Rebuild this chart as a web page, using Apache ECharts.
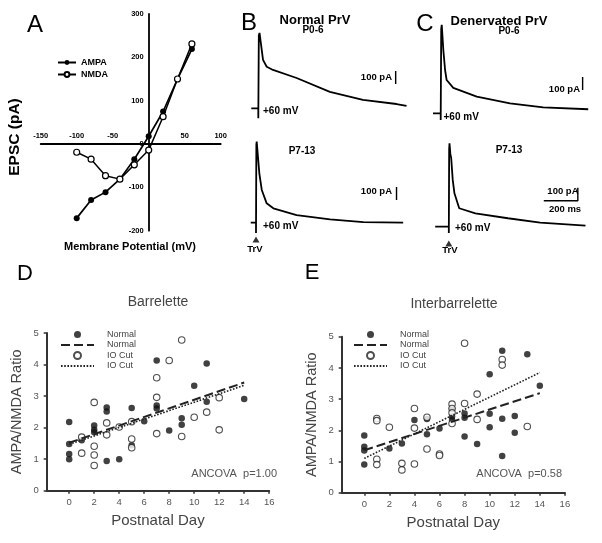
<!DOCTYPE html>
<html><head><meta charset="utf-8">
<script src="https://cdn.jsdelivr.net/npm/echarts@6/dist/echarts.min.js"></script>
<style>html,body{margin:0;padding:0;background:#fff}#c{width:602px;height:543px}</style>
</head><body><div id="c"></div>
<script>
// ---------- Panel A: I-V relation ----------
const ivVoltage   = [-100, -80, -60, -40, -20, 0, 20, 40, 60];
const ampaCurrent = [-171, -129, -111, -81, -35, 18, 75, 150, 219];
const nmdaCurrent = [-19, -35, -73, -81, -48, -14, 63, 150, 231];

// ---------- Panels B, C: EPSC traces [time ms, current pA] ----------
const traceNormalP06 = [[-40,0],[0,0],[0,-77],[3,560],[7,580],[27,372],[48,320],[84,295],[219,233],[409,126],[598,64],[790,33],[847,18]];
const traceNormalP713 = [[-30,0],[0,0],[0,-80],[2,600],[4,624],[19,380],[33,252],[61,149],[99,111],[232,59],[423,26],[613,5],[841,0]];
const traceDenervP06 = [[-44,0],[0,0],[0,-52],[3,650],[6,680],[15,487],[25,333],[34,256],[72,195],[206,128],[396,77],[586,46],[843,31]];
const traceDenervP713 = [[-80,0],[0,0],[0,-49],[2,600],[4,642],[9,560],[14,527],[23,360],[33,257],[61,142],[156,103],[347,65],[537,31],[803,8]];
const barNormalP06 = [[785,187],[785,287]];
const barNormalP713 = [[803,175],[803,275]];
const barDenervP06 = [[811,179],[811,279]];
const barDenervP713 = [[558,200],[758,200],[758,300]];
const stimMark = [[0,-130]];

// ---------- Panel D: Barrelette ----------
const dayTicks = [0, 2, 4, 6, 8, 10, 12, 14, 16];
const barNormalDay   = [0,0,0,0,1,2,2,2,3,3,3,4,5,5,6,7,7,7,8,9,9,10,11,11,14];
const barNormalRatio = [2.18,1.48,1.16,1.0,1.60,2.07,1.93,1.85,2.64,2.51,0.94,1.0,2.62,1.44,2.2,4.13,2.70,2.61,1.91,2.3,2.09,3.33,4.03,2.82,2.91];
const barCutDay   = [1,1,2,2,2,2,3,3,4,5,5,5,7,7,7,8,9,9,10,11,12,12];
const barCutRatio = [1.70,1.19,2.80,1.41,1.13,0.80,2.15,1.77,2.02,2.19,1.64,1.36,3.58,2.96,1.81,4.13,4.78,1.72,2.33,2.49,2.95,1.93];
const fitDays = [0, 14];
const barNormalFit = [1.52, 3.43];
const barCutFit = [1.47, 3.34];

// ---------- Panel E: Interbarrelette ----------
const ibNormalDay   = [0,0,0,0,2,3,4,5,5,6,7,7,7,8,8,8,9,10,10,10,11,11,11,12,12,13,14];
const ibNormalRatio = [1.83,1.47,1.35,0.90,1.42,1.58,2.33,2.36,1.87,2.06,2.70,2.44,2.33,2.54,2.40,1.80,1.56,3.80,2.53,2.10,4.55,2.37,1.18,2.46,1.92,4.44,3.43];
const ibCutDay   = [1,1,1,1,2,3,3,4,4,4,5,5,6,6,7,7,7,7,8,8,9,9,11,11,13];
const ibCutRatio = [2.38,2.31,1.07,0.90,2.10,0.94,0.73,2.70,2.07,0.92,2.42,1.40,1.24,1.19,2.84,2.70,2.56,2.22,4.79,2.86,3.16,2.35,4.27,4.09,2.12];
const ibNormalFit = [1.36, 3.19];
const ibCutFit = [1.10, 3.85];

const zip = (a, b) => a.map((v, i) => [v, b[i]]);
const SANS = '"Liberation Sans", Arial, sans-serif';

// ----- layout -----
const A = { left: 40.7, top: 14, width: 180, height: 216.7, xmin: -150, xmax: 100, ymin: -200, ymax: 300 };
const zeroY = A.top + A.height * A.ymax / (A.ymax - A.ymin);
const zeroX = A.left + A.width * (-A.xmin) / (A.xmax - A.xmin);
const PXMS = 0.175, PXPA = 0.13, TMIN = -100, TMAX = 900, IMIN = -150, IMAX = 750;
function traceGrid(stimX, baseY) {
  return { left: stimX + TMIN * PXMS, top: baseY - IMAX * PXPA,
           width: (TMAX - TMIN) * PXMS, height: (IMAX - IMIN) * PXPA };
}
const grids = [
  { left: A.left, top: A.top, width: A.width, height: A.height },                 // 0 A data
  { left: A.left, top: zeroY, width: A.width, height: A.top + A.height - zeroY }, // 1 A x-axis
  { left: zeroX, top: A.top, width: A.left + A.width - zeroX, height: A.height }, // 2 A y-axis
  traceGrid(258.3, 108.3),                                                         // 3 B top
  traceGrid(256, 222.7),                                                           // 4 B bottom
  traceGrid(440.7, 113.3),                                                         // 5 C top
  traceGrid(449.3, 226.7),                                                         // 6 C bottom
  { left: 46.7, top: 333, width: 222.5, height: 157.7 },                          // 7 D
  { left: 341.7, top: 336.7, width: 223.2, height: 156 }                          // 8 E
];

const xAxes = [], yAxes = [];
const hiddenX = (g, min, max) => ({ gridIndex: g, type: 'value', min, max, show: false });
const hiddenY = (g, min, max) => ({ gridIndex: g, type: 'value', min, max, show: false });
const tickFontA = { color: '#000', fontFamily: SANS, fontWeight: 'bold', fontSize: 7.5 };
xAxes.push(hiddenX(0, A.xmin, A.xmax)); yAxes.push(hiddenY(0, A.ymin, A.ymax));
xAxes.push({ gridIndex: 1, type: 'value', min: A.xmin, max: A.xmax, interval: 50, position: 'top',
  axisLine: { onZero: false, lineStyle: { color: '#000', width: 1.8 } },
  axisTick: { show: false }, splitLine: { show: false },
  axisLabel: Object.assign({ margin: 4, formatter: v => v === 0 ? '' : String(v) }, tickFontA) });
yAxes.push(hiddenY(1, 0, 1));
xAxes.push(hiddenX(2, 0, 1));
yAxes.push({ gridIndex: 2, type: 'value', min: A.ymin, max: A.ymax, interval: 100, position: 'left',
  axisLine: { onZero: false, lineStyle: { color: '#000', width: 1.8 } },
  axisTick: { show: false }, splitLine: { show: false },
  axisLabel: Object.assign({ margin: 5 }, tickFontA) });
for (let g = 3; g <= 6; g++) { xAxes.push(hiddenX(g, TMIN, TMAX)); yAxes.push(hiddenY(g, IMIN, IMAX)); }
for (const g of [7, 8]) {
  xAxes.push({ gridIndex: g, type: 'value', min: -1.8, max: 16,
    axisLine: { onZero: false, lineStyle: { color: '#333', width: 2 } },
    axisTick: { show: true, customValues: dayTicks, length: 3, lineStyle: { color: '#333', width: 1.5 } },
    axisLabel: { customValues: dayTicks, margin: 7, color: '#555', fontFamily: SANS, fontSize: 9.5 },
    splitLine: { show: false },
    name: 'Postnatal Day', nameLocation: 'middle', nameGap: 23,
    nameTextStyle: { fontFamily: SANS, fontSize: 15, color: '#444' } });
  yAxes.push({ gridIndex: g, type: 'value', min: 0, max: 5, interval: 1,
    axisLine: { show: true, onZero: false, lineStyle: { color: '#333', width: 2 } },
    axisTick: { show: true, length: 3, lineStyle: { color: '#333', width: 1.5 } },
    axisLabel: { margin: 8, color: '#555', fontFamily: SANS, fontSize: 9.5 },
    splitLine: { show: false },
    name: 'AMPA/NMDA Ratio', nameLocation: 'middle', nameGap: 22, nameRotate: 90,
    nameTextStyle: { fontFamily: SANS, fontSize: 14.5, color: '#444' } });
}

const series = [];
series.push({ name: 'AMPA', type: 'line', xAxisIndex: 0, yAxisIndex: 0, data: zip(ivVoltage, ampaCurrent), z: 5,
  symbol: 'circle', symbolSize: 6, itemStyle: { color: '#000' }, lineStyle: { color: '#000', width: 1.7 } });
series.push({ name: 'NMDA', type: 'line', xAxisIndex: 0, yAxisIndex: 0, data: zip(ivVoltage, nmdaCurrent), z: 5,
  symbol: 'circle', symbolSize: 6, itemStyle: { color: '#fff', borderColor: '#000', borderWidth: 1.2 },
  lineStyle: { color: '#000', width: 1.5 } });
const traces = [[traceNormalP06, barNormalP06], [traceNormalP713, barNormalP713],
                [traceDenervP06, barDenervP06], [traceDenervP713, barDenervP713]];
traces.forEach(([tr, bar], i) => {
  series.push({ type: 'line', xAxisIndex: i + 3, yAxisIndex: i + 3, data: tr, symbol: 'none',
    lineStyle: { color: '#000', width: 1.8 } });
  series.push({ type: 'line', xAxisIndex: i + 3, yAxisIndex: i + 3, data: bar, symbol: 'none',
    lineStyle: { color: '#000', width: 1.4 } });
});
for (const i of [4, 6]) {
  series.push({ type: 'scatter', xAxisIndex: i, yAxisIndex: i, data: stimMark, symbol: 'triangle',
    symbolSize: [7, 6], itemStyle: { color: '#000' } });
}
function scatterPanel(ax, nd, nr, cd, cr, nFit, cFit) {
  series.push({ name: 'Normal', type: 'scatter', xAxisIndex: ax, yAxisIndex: ax, data: zip(nd, nr),
    symbol: 'circle', symbolSize: 6.5, itemStyle: { color: '#111' } });
  series.push({ name: 'IO Cut', type: 'scatter', xAxisIndex: ax, yAxisIndex: ax, data: zip(cd, cr),
    symbol: 'circle', symbolSize: 6.5, itemStyle: { color: '#fff', borderColor: '#222', borderWidth: 1.1 } });
  series.push({ name: 'Normal ', type: 'line', xAxisIndex: ax, yAxisIndex: ax, data: zip(fitDays, nFit),
    symbol: 'none', itemStyle: { color: 'rgba(0,0,0,0)' }, lineStyle: { color: '#222', width: 2, type: [9, 4] } });
  series.push({ name: 'IO Cut ', type: 'line', xAxisIndex: ax, yAxisIndex: ax, data: zip(fitDays, cFit),
    symbol: 'none', itemStyle: { color: 'rgba(0,0,0,0)' }, lineStyle: { color: '#222', width: 1.6, type: [1.6, 1.6] } });
}
scatterPanel(7, barNormalDay, barNormalRatio, barCutDay, barCutRatio, barNormalFit, barCutFit);
scatterPanel(8, ibNormalDay, ibNormalRatio, ibCutDay, ibCutRatio, ibNormalFit, ibCutFit);

function txt(x, y, text, font, opts = {}) {
  return { type: 'text', x, y, rotation: opts.rot || 0, silent: true,
    style: { text, font, fill: opts.fill || '#000', textAlign: opts.align || 'center', textVerticalAlign: 'middle' } };
}
const bN = s => 'bold ' + s + 'px ' + SANS;
const graphic = [
  txt(35, 25, 'A', '24px ' + SANS),
  txt(249, 23, 'B', '24px ' + SANS),
  txt(425, 24, 'C', '24px ' + SANS),
  txt(25, 274, 'D', '22px ' + SANS),
  txt(312, 273, 'E', '22px ' + SANS),
  txt(15, 137, 'EPSC (pA)', bN(15.5), { rot: Math.PI / 2 }),
  txt(130, 246.5, 'Membrane Potential (mV)', bN(11)),
  txt(315, 20, 'Normal PrV', bN(13)),
  txt(313, 30.5, 'P0-6', bN(10)),
  txt(392, 77, '100 pA', bN(9.5), { align: 'right' }),
  txt(263, 111.7, '+60 mV', bN(10), { align: 'left' }),
  txt(302, 151.7, 'P7-13', bN(10)),
  txt(392, 191.7, '100 pA', bN(9.5), { align: 'right' }),
  txt(263, 226.7, '+60 mV', bN(10), { align: 'left' }),
  txt(255, 249.5, 'TrV', bN(9.5)),
  txt(499, 21, 'Denervated PrV', bN(13)),
  txt(509, 31.5, 'P0-6', bN(10)),
  txt(580, 89.3, '100 pA', bN(9.5), { align: 'right' }),
  txt(443.5, 117.7, '+60 mV', bN(10), { align: 'left' }),
  txt(509, 150, 'P7-13', bN(10)),
  txt(578.5, 191.7, '100 pA', bN(9.5), { align: 'right' }),
  txt(565, 209.3, '200 ms', bN(9.5)),
  txt(455, 228.3, '+60 mV', bN(10), { align: 'left' }),
  txt(450, 250, 'TrV', bN(9.5)),
  txt(158, 302, 'Barrelette', '14px ' + SANS, { fill: '#444' }),
  txt(454, 304, 'Interbarrelette', '14px ' + SANS, { fill: '#444' }),
  txt(277, 473.5, 'ANCOVA  p=1.00', '11px ' + SANS, { fill: '#555', align: 'right' }),
  txt(562, 474, 'ANCOVA  p=0.58', '11px ' + SANS, { fill: '#555', align: 'right' })
];

const legScatter = (left) => ({
  data: ['Normal', 'Normal ', 'IO Cut', 'IO Cut '], left, top: 330, orient: 'vertical',
  itemWidth: 33, itemHeight: 7, itemGap: 1.5, selectedMode: false, padding: 0,
  textStyle: { fontFamily: SANS, fontSize: 9, lineHeight: 9, color: '#444', padding: [0, 0, 0, 8] }
});
const option = {
  animation: false,
  backgroundColor: '#fff',
  grid: grids,
  xAxis: xAxes,
  yAxis: yAxes,
  legend: [
    { data: ['AMPA', 'NMDA'], left: 57, top: 58, orient: 'vertical', itemWidth: 18, itemHeight: 6,
      itemGap: 3, selectedMode: false, padding: 0,
      textStyle: { fontFamily: SANS, fontWeight: 'bold', fontSize: 9, lineHeight: 7, color: '#000' } },
    legScatter(60), legScatter(353)
  ],
  series,
  graphic
};
const chart = echarts.init(document.getElementById('c'), null, { renderer: 'canvas' });
chart.setOption(option);
</script></body></html>
